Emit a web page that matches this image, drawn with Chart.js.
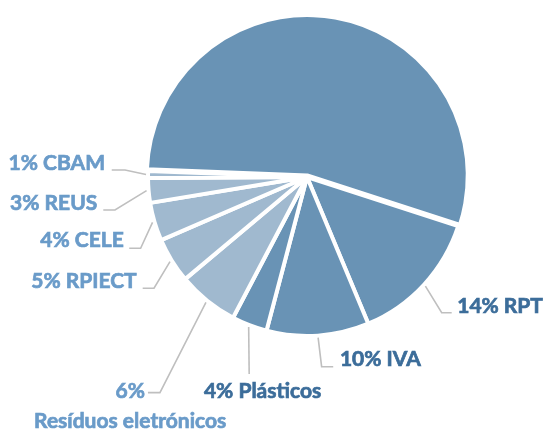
<!DOCTYPE html>
<html>
<head>
<meta charset="utf-8">
<script src="https://cdn.jsdelivr.net/npm/chart.js@4/dist/chart.umd.min.js"></script>
<style>
  html, body { margin: 0; padding: 0; background: #fff; }
  #wrap { width: 545px; height: 430px; }
</style>
</head>
<body>
<div id="wrap"><canvas id="pie" width="545" height="430"></canvas></div>
<script>
'use strict';
// data (clockwise, starting at the RPT slice)
var categories = ['RPT', 'IVA', 'Plásticos', 'Resíduos eletrónicos', 'RPIECT', 'CELE', 'REUS', 'CBAM', 'Outros'];
var values = [13.7, 10.4, 3.6, 6.2, 4.6, 3.9, 2.5, 0.7, 54.4];
var pctLabels = [14, 10, 4, 6, 5, 4, 3, 1, null]; // the big slice has no label

// styles
var darkSlice = '#6993b5';
var lightSlice = '#a0b9cf';
var darkText = '#3c6d9a';
var lightText = '#6a9bc9';
var leaderColor = '#bfbfbf';
var sliceColors = [darkSlice, darkSlice, darkSlice, lightSlice, lightSlice, lightSlice, lightSlice, lightSlice, darkSlice];
var textColors = [darkText, darkText, darkText, lightText, lightText, lightText, lightText, lightText, darkText];

// leader line layout per label: elbow offset from the slice edge, horizontal tail, text offset from tail end
var labelLayout = [
  { elbow: [16.3, 26.6], tail: 10, text: [5.5, 0.5], align: 'left' },
  { elbow: [3.5, 29.1], tail: 11.6, text: [6.7, -0.5], align: 'left' },
  { elbow: [0.5, 47], tail: 0, text: [13.4, 24.3], align: 'center' },
  { elbow: [-46, 90.3], tail: -12, text: [-17.8, 5.6], align: 'center', wrap: true },
  { elbow: [-16, 26.7], tail: -11.3, text: [-6, 0], align: 'right' },
  { elbow: [-11.9, 25.9], tail: -11.4, text: [-5.5, -1], align: 'right' },
  { elbow: [-31.6, 19.3], tail: -11.7, text: [-6, 0], align: 'right' },
  { elbow: [-21, -4.5], tail: -13.3, text: [-6.7, 0], align: 'right' }
];

// draws the labels with their leader lines
var leaderPlugin = {
  id: 'leaders',
  afterDatasetsDraw: function (chart) {
    var ctx = chart.ctx;
    var meta = chart.getDatasetMeta(0);
    ctx.save();
    ctx.font = 'bold 21px Lato';
    ctx.textBaseline = 'alphabetic';
    meta.data.forEach(function (arc, i) {
      if (pctLabels[i] === null) return;
      var p = arc.getProps(['x', 'y', 'startAngle', 'endAngle', 'outerRadius'], true);
      var mid = (p.startAngle + p.endAngle) / 2;
      var r = p.outerRadius + 2;
      var ax = p.x + Math.cos(mid) * r;
      var ay = p.y + Math.sin(mid) * r;
      var lay = labelLayout[i];
      var ex = ax + lay.elbow[0], ey = ay + lay.elbow[1];
      var tx = ex + lay.tail, ty = ey;
      ctx.strokeStyle = leaderColor;
      ctx.lineWidth = 1.6;
      ctx.beginPath();
      ctx.moveTo(ax, ay);
      ctx.lineTo(ex, ey);
      ctx.lineTo(tx, ty);
      ctx.stroke();
      var lines = lay.wrap ? [pctLabels[i] + '%', categories[i]] : [pctLabels[i] + '% ' + categories[i]];
      ctx.fillStyle = textColors[i];
      ctx.strokeStyle = textColors[i];
      ctx.lineWidth = 0.7; // a bit heavier, closer to the original bold face
      ctx.textAlign = lay.align;
      lines.forEach(function (s, k) {
        var x = tx + lay.text[0], y = ty + lay.text[1] + k * 29.4;
        ctx.fillText(s, x, y);
        ctx.strokeText(s, x, y);
      });
    });
    ctx.restore();
  }
};

var chart = new Chart(document.getElementById('pie').getContext('2d'), {
  type: 'pie',
  data: {
    labels: categories,
    datasets: [{
      data: values,
      backgroundColor: sliceColors,
      borderColor: '#ffffff',
      borderWidth: 4,
      radius: 159,
      offset: [0, 0, 0, 0, 0, 0, 0, 0, 6]
    }]
  },
  options: {
    responsive: false,
    animation: false,
    rotation: 108,
    layout: { padding: { left: 69, right: 0, top: 0, bottom: 76 } },
    plugins: {
      legend: { display: false },
      tooltip: { enabled: false }
    }
  },
  plugins: [leaderPlugin]
});
</script>
</body>
</html>
